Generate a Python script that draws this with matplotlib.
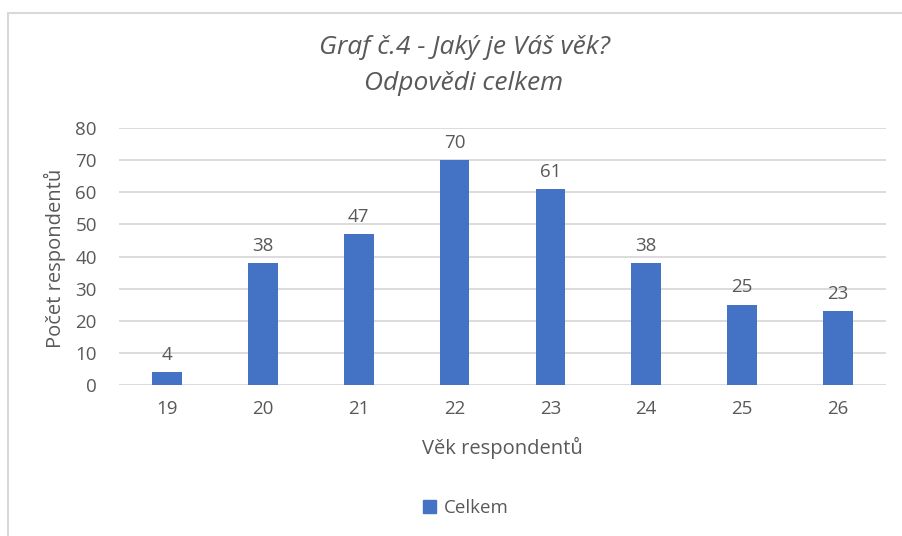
import matplotlib
matplotlib.use("Agg")
import matplotlib.pyplot as plt
from matplotlib.patches import Rectangle, Patch

ages = ["19", "20", "21", "22", "23", "24", "25", "26"]
counts = [4, 38, 47, 70, 61, 38, 25, 23]
yticks = [0, 10, 20, 30, 40, 50, 60, 70, 80]

bar_color = "#4472C4"
text_color = "#595959"
grid_color = "#d9d9d9"

plt.rcParams["font.family"] = ["Open Sans", "DejaVu Sans"]

W, H = 902, 536
fig = plt.figure(figsize=(W / 100, H / 100), dpi=100)
ax = fig.add_axes([119 / W, 1 - 385 / H, (886 - 119) / W, (385 - 128) / H])

x = list(range(len(ages)))
bars = ax.bar(x, counts, width=0.31, color=bar_color, zorder=3)
for xi, v in zip(x, counts):
    ax.annotate(str(v), (xi, v), xytext=(0, 6), textcoords="offset points",
                ha="center", va="bottom", fontsize=13.5, color=text_color)

ax.set_xlim(-0.5, len(ages) - 0.5)
ax.set_ylim(0, 80)
ax.set_yticks(yticks)
ax.set_xticks(x)
ax.set_xticklabels(ages)
ax.yaxis.grid(True, color=grid_color, linewidth=1.3, zorder=0)
ax.set_axisbelow(True)
for s in ax.spines.values():
    s.set_visible(False)
ax.tick_params(length=0, labelsize=13.5, labelcolor=text_color)
ax.tick_params(axis="y", pad=16)
ax.tick_params(axis="x", pad=11)

fig.text(55 / W, 1 - 258 / H, "Počet respondentů", rotation=90,
         ha="center", va="center", fontsize=14.5, color=text_color)
fig.text(502 / W, 1 - 448 / H, "Věk respondentů", ha="center", va="center",
         fontsize=14.5, color=text_color)
fig.text(464 / W, 1 - 48 / H, "Graf č.4 - Jaký je Váš věk?", ha="center",
         va="center", fontsize=19, style="italic", color=text_color)
fig.text(464 / W, 1 - 84 / H, "Odpovědi celkem", ha="center",
         va="center", fontsize=19, style="italic", color=text_color)

fig.legend(handles=[Patch(color=bar_color, label="Celkem")],
           loc="center", bbox_to_anchor=(466 / W, 1 - 508 / H), frameon=False,
           fontsize=13.5, labelcolor=text_color, handlelength=0.7,
           handleheight=0.7, handletextpad=0.4)

fig.patches.append(Rectangle((8 / W, -0.05), 1.1, 1 - 13 / H + 0.05,
                             transform=fig.transFigure, fill=False,
                             edgecolor="#d9d9d9", linewidth=1.5))

fig.savefig("out.png", dpi=100)
